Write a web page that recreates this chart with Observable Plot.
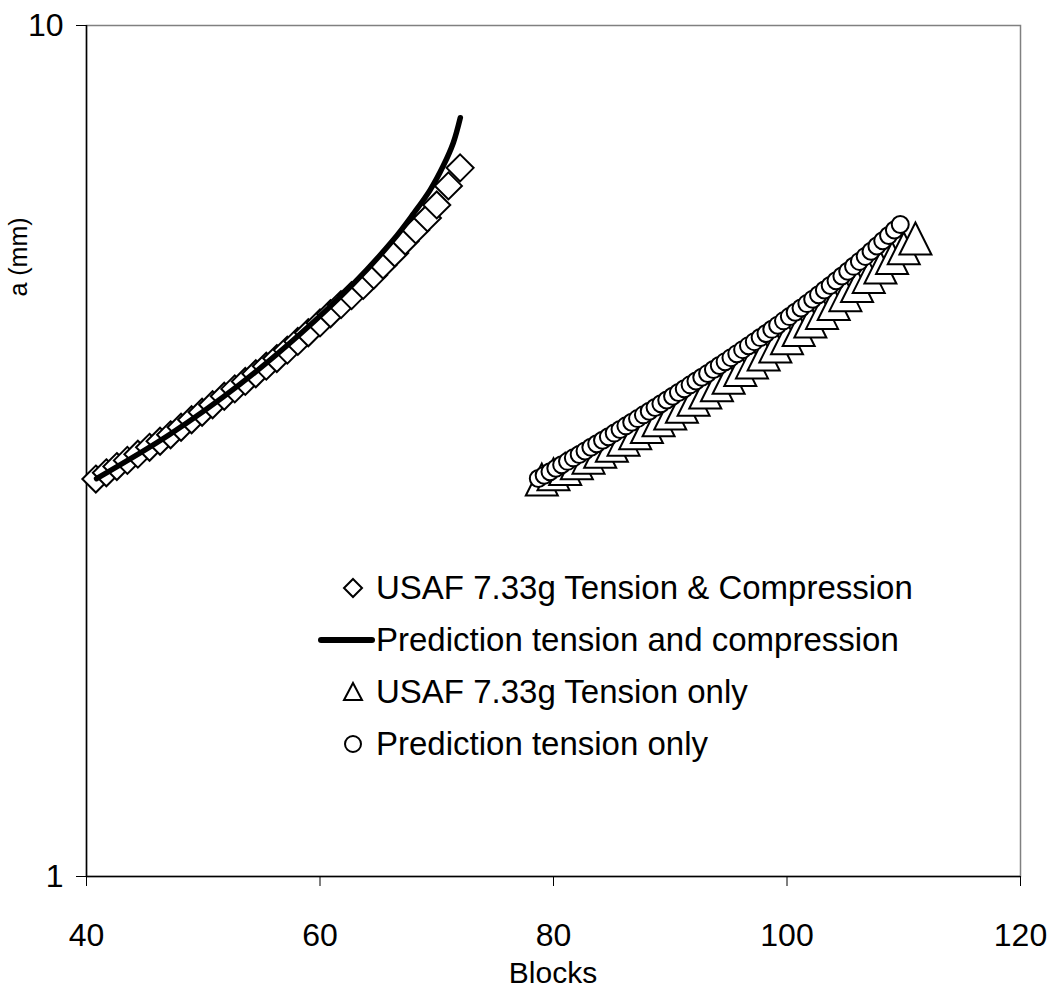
<!DOCTYPE html>
<html>
<head>
<meta charset="utf-8">
<script src="https://cdn.jsdelivr.net/npm/d3@7"></script>
<script src="https://cdn.jsdelivr.net/npm/@observablehq/plot@0.6"></script>
<style>
  html, body { margin: 0; padding: 0; background: #fff; }
  #wrap { position: relative; width: 1051px; height: 992px; font-family: "Liberation Sans", Arial, sans-serif; }
  #legend { position: absolute; left: 0; top: 0; }
  .row { position: absolute; height: 40px; display: flex; align-items: center; font-size: 33px; color: #000; white-space: nowrap; }
</style>
</head>
<body>
<div id="wrap"></div>
<script>
// ---- data ----
const blocksTC = [40.8, 41.7, 42.6, 43.5, 44.4, 45.4, 46.3, 47.2, 48.1, 49.0, 49.9, 50.8, 51.8, 52.7, 53.6, 54.5, 55.4, 56.3, 57.2, 58.1, 59.0, 60.0, 60.9, 61.8, 62.7, 63.7, 64.6, 65.4, 66.4, 67.3, 68.2, 69.2, 70.0, 71.0, 72.0];
const aTC = [2.931, 2.981, 3.032, 3.083, 3.135, 3.194, 3.247, 3.304, 3.372, 3.441, 3.512, 3.584, 3.667, 3.741, 3.817, 3.897, 3.978, 4.061, 4.155, 4.254, 4.355, 4.472, 4.584, 4.699, 4.815, 4.950, 5.090, 5.230, 5.403, 5.582, 5.751, 5.941, 6.154, 6.479, 6.803];

const blocksPredTC = [40.86, 47.12, 53.13, 58.28, 62.83, 66.27, 67.99, 69.44, 70.56, 71.42, 72.02];
const aPredTC = [2.935, 3.307, 3.787, 4.337, 4.967, 5.596, 6.006, 6.410, 6.841, 7.282, 7.792];

const blocksT = [79, 80, 81, 82, 83, 84, 85, 86, 87, 88, 89, 90, 91, 92, 93, 94, 95, 96, 97, 98, 99, 100, 101, 102, 103, 104, 105, 106, 107, 108, 109, 110, 111];
const aT = [2.927, 2.969, 3.012, 3.059, 3.106, 3.156, 3.207, 3.261, 3.317, 3.375, 3.436, 3.499, 3.565, 3.633, 3.704, 3.778, 3.855, 3.936, 4.019, 4.106, 4.196, 4.289, 4.387, 4.490, 4.595, 4.707, 4.821, 4.941, 5.065, 5.195, 5.331, 5.473, 5.620];

const blocksPredT = [78.7, 79.2, 79.7, 80.2, 80.7, 81.2, 81.7, 82.2, 82.7, 83.2, 83.7, 84.2, 84.7, 85.2, 85.7, 86.2, 86.7, 87.2, 87.7, 88.2, 88.7, 89.2, 89.7, 90.2, 90.7, 91.2, 91.7, 92.2, 92.7, 93.2, 93.7, 94.2, 94.7, 95.2, 95.7, 96.2, 96.7, 97.2, 97.7, 98.2, 98.7, 99.2, 99.7, 100.2, 100.7, 101.2, 101.7, 102.2, 102.7, 103.2, 103.7, 104.2, 104.7, 105.2, 105.7, 106.2, 106.7, 107.2, 107.7, 108.2, 108.7, 109.2, 109.7];
const aPredT = [2.935, 2.962, 2.990, 3.018, 3.047, 3.075, 3.104, 3.133, 3.163, 3.194, 3.225, 3.255, 3.287, 3.319, 3.352, 3.385, 3.418, 3.452, 3.487, 3.521, 3.557, 3.593, 3.630, 3.667, 3.704, 3.743, 3.782, 3.821, 3.861, 3.901, 3.943, 3.985, 4.027, 4.071, 4.115, 4.160, 4.205, 4.251, 4.298, 4.346, 4.395, 4.445, 4.497, 4.549, 4.603, 4.657, 4.712, 4.769, 4.827, 4.888, 4.949, 5.012, 5.077, 5.144, 5.212, 5.282, 5.354, 5.429, 5.506, 5.585, 5.666, 5.751, 5.836];

const xTicks = [40, 60, 80, 100, 120];
const yTicks = [1, 10];
const seriesNames = ["USAF 7.33g Tension & Compression", "Prediction tension and compression", "USAF 7.33g Tension only", "Prediction tension only"];
const xTitle = "Blocks";
const yTitle = "a (mm)";

// ---- build tables ----
const tc = blocksTC.map((b, i) => ({blocks: b, a: aTC[i]}));
const predTC = blocksPredTC.map((b, i) => ({blocks: b, a: aPredTC[i]}));
const t = blocksT.map((b, i) => ({blocks: b, a: aT[i]}));
const predT = blocksPredT.map((b, i) => ({blocks: b, a: aPredT[i]}));

// Excel-like marker shapes (size = pi r^2)
const diamondSym = {draw(ctx, size) { const s = Math.sqrt(size / Math.PI); ctx.moveTo(0, -s); ctx.lineTo(s, 0); ctx.lineTo(0, s); ctx.lineTo(-s, 0); ctx.closePath(); }};
const triangleSym = {draw(ctx, size) { const s = Math.sqrt(size / Math.PI); ctx.moveTo(0, -s); ctx.lineTo(s, s); ctx.lineTo(-s, s); ctx.closePath(); }};

const FONT = "'Liberation Sans', Arial, sans-serif";

const chart = Plot.plot({
  width: 1051,
  height: 992,
  marginLeft: 86,
  marginRight: 31,
  marginTop: 25,
  marginBottom: 116,
  style: {fontFamily: FONT, background: "white", color: "black", overflow: "visible"},
  x: {domain: [40, 120], label: null},
  y: {type: "log", domain: [1, 10], label: null},
  marks: [
    Plot.frame({stroke: "#808080", strokeWidth: 1.5}),
    Plot.ruleX([40], {stroke: "black", strokeWidth: 1.5}),
    Plot.ruleY([1], {stroke: "black", strokeWidth: 1.5}),
    Plot.axisX(xTicks, {tickSize: 10, tickPadding: 37, fontSize: 32, label: null, tickFormat: d => String(d)}),
    Plot.axisY(yTicks, {tickSize: 10, tickPadding: 13, fontSize: 32, label: null, tickFormat: d => String(d)}),
    Plot.dot(tc, {x: "blocks", y: "a", symbol: diamondSym, r: 13.5, fill: "white", stroke: "black", strokeWidth: 2}),
    Plot.line(predTC, {x: "blocks", y: "a", curve: "catmull-rom", stroke: "black", strokeWidth: 5.5, strokeLinecap: "round"}),
    Plot.dot(t, {x: "blocks", y: "a", symbol: triangleSym, r: 16, fill: "white", stroke: "black", strokeWidth: 2}),
    Plot.dot(predT, {x: "blocks", y: "a", symbol: "circle", r: 8.5, fill: "white", stroke: "black", strokeWidth: 2})
  ]
});

const wrap = document.getElementById("wrap");
wrap.appendChild(chart);

// axis titles
const svg = d3.select(chart);
svg.append("text")
  .attr("x", 553).attr("y", 972).attr("dy", "0.35em")
  .attr("text-anchor", "middle")
  .style("font-size", "30px").style("font-family", FONT).attr("fill", "black")
  .text(xTitle);
svg.append("text")
  .attr("transform", "translate(18,257) rotate(-90)").attr("dy", "0.35em")
  .attr("text-anchor", "middle")
  .style("font-size", "25px").style("font-family", FONT).attr("fill", "black")
  .text(yTitle);

// ---- legend (inside plot area, HTML overlay) ----
const legend = document.createElement("div");
legend.id = "legend";
const rowY = [588, 640, 692, 744];
const icons = [
  `<svg width="58" height="40" style="overflow:visible"><path d="M35,11 L44,20 L35,29 L26,20 Z" fill="white" stroke="black" stroke-width="2"/></svg>`,
  `<svg width="58" height="40" style="overflow:visible"><line x1="3" y1="20" x2="54" y2="20" stroke="black" stroke-width="6" stroke-linecap="round"/></svg>`,
  `<svg width="58" height="40" style="overflow:visible"><path d="M35,11 L44,28 L26,28 Z" fill="white" stroke="black" stroke-width="2"/></svg>`,
  `<svg width="58" height="40" style="overflow:visible"><circle cx="35" cy="20" r="8" fill="white" stroke="black" stroke-width="2"/></svg>`
];
seriesNames.forEach((name, i) => {
  const row = document.createElement("div");
  row.className = "row";
  row.style.left = "318px";
  row.style.top = (rowY[i] - 20) + "px";
  row.innerHTML = icons[i] + `<span>${name}</span>`;
  legend.appendChild(row);
});
wrap.appendChild(legend);
</script>
</body>
</html>
